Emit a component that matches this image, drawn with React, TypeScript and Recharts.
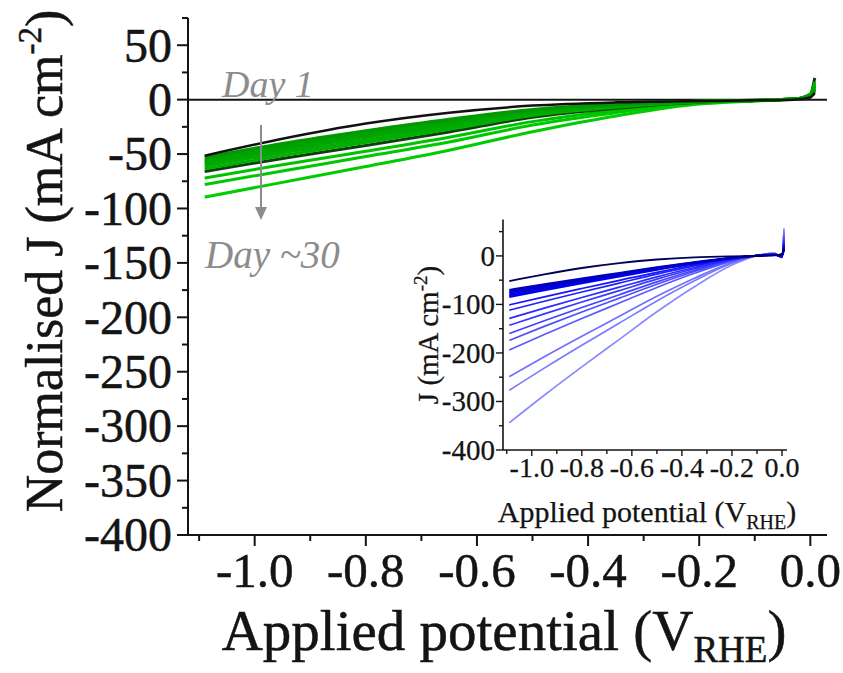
import { LineChart, Line, XAxis, YAxis, ReferenceLine } from 'recharts'

const FONT = "'Liberation Serif', 'Times New Roman', serif"
const INK = '#141414'

// applied potential (V vs RHE) at which every sweep is sampled
const potentials = [-1.09, -0.95, -0.8, -0.65, -0.5, -0.35, -0.2, -0.1, -0.03, 0, 0.008]

// normalised current density, main panel (mA cm-2)
const mainDay1 = [-51.5, -36, -22, -12, -5.5, -2.5, -1.2, -0.6, 0, 2, 6]
const mainDay2 = [-66, -54, -42.2, -29.7, -16.2, -7.9, -2.3, -0.8, 0.5, 5, 20]
const mainDay3 = [-53, -40.3, -28.6, -18, -9, -4, -1.4, -0.6, 0.5, 3, 8]
const mainDay4 = [-55, -42.4, -30.5, -19.3, -9.9, -4.4, -1.5, -0.6, 0.5, 3, 9]
const mainDay5 = [-57, -44.5, -32.5, -21.1, -10.8, -4.8, -1.6, -0.6, 0.5, 4, 10]
const mainDay6 = [-59, -46.6, -34.8, -23, -11.8, -5.3, -1.8, -0.7, 0.5, 4, 12]
const mainDay7 = [-61, -48.8, -37.2, -25, -13.1, -6.1, -1.8, -0.7, 0.5, 5, 14]
const mainDay8 = [-63.5, -51.4, -39.4, -27.3, -14.6, -7, -2.1, -0.8, 0.5, 5, 16]
const mainDay9 = [-72, -59.8, -47.5, -34.6, -20.2, -10, -2.9, -0.9, 0.5, 4, 14]
const mainDay10 = [-78, -65.5, -52.3, -39, -23.4, -12, -3.1, -1, 0.5, 4, 12]
const mainDay11 = [-89.5, -76, -61.5, -46.5, -29.5, -15, -4, -1.2, 0.5, 4, 12]

// raw current density, inset (mA cm-2)
const insetDay1 = [-52, -38, -25, -15, -7.5, -3, -1, -0.3, 1, 4, 15]
const insetDay2 = [-70, -58.5, -46.5, -35, -23.5, -13, -3.9, 0.5, 2, 1, 12]
const insetDay3 = [-73, -61, -48.5, -36.5, -24.5, -13.5, -4, 0.5, 2, 1, 14]
const insetDay4 = [-76, -63.5, -50.5, -38, -25.5, -14.1, -4.2, 0.5, 2, 0, 16]
const insetDay5 = [-79, -66, -52.5, -39.5, -26.5, -14.6, -4.3, 0.5, 2, 0, 18]
const insetDay6 = [-82, -68.5, -54.5, -41, -27.5, -15.2, -4.5, 0.5, 2, -1, 20]
const insetDay7 = [-85, -71, -56.5, -42.5, -28.5, -15.7, -4.7, 0.5, 2, -1, 22]
const insetDay8 = [-101, -84.3, -67.2, -50.5, -33.8, -18.7, -5.6, 0.5, 3, -1, 25]
const insetDay9 = [-112, -93.5, -74.5, -56, -37.5, -20.7, -6.2, 0.5, 3, -2, 28]
const insetDay10 = [-129, -107.7, -85.8, -64.5, -43.2, -23.9, -7.1, 0.5, 3, -2, 30]
const insetDay11 = [-143, -119.4, -95.1, -71.5, -47.9, -26.5, -7.9, 0.5, 3, -2, 33]
const insetDay12 = [-160, -133.6, -106.4, -80, -53.6, -29.6, -8.8, 0.5, 4, -2, 36]
const insetDay13 = [-174, -145.3, -115.7, -87, -58.3, -32.2, -9.6, 0.5, 4, -3, 40]
const insetDay14 = [-194, -162, -129, -97, -65, -35.9, -10.7, 0.5, 4, -3, 44]
const insetDay15 = [-249, -207.9, -165.6, -124.5, -83.4, -46.1, -13.7, 0.5, 5, -3, 48]
const insetDay16 = [-277, -231.3, -184.2, -138.5, -92.8, -51.2, -15.2, 0.5, 5, -3, 52]
const insetDay17 = [-344, -287.2, -228.8, -172, -115.2, -63.6, -18.9, 0.5, 5, -3, 57]

const potentialTicks = [-1.1, -1.0, -0.9, -0.8, -0.7, -0.6, -0.5, -0.4, -0.3, -0.2, -0.1, 0.0]
const mainJTicks = [
  -400, -375, -350, -325, -300, -275, -250, -225, -200, -175, -150, -125, -100, -75, -50, -25,
  0, 25, 50, 75,
]
const insetJTicks = [-400, -350, -300, -250, -200, -150, -100, -50, 0, 50]

type Series = { key: string; values: number[]; color: string; width: number }

// drawn bottom-up: later entries sit on top
const mainSeries: Series[] = [
  { key: 'd11', values: mainDay11, color: '#00cc00', width: 3 },
  { key: 'd10', values: mainDay10, color: '#00c800', width: 3 },
  { key: 'd9', values: mainDay9, color: '#00c200', width: 3 },
  { key: 'd2', values: mainDay2, color: '#0b420b', width: 3 },
  { key: 'd8', values: mainDay8, color: '#00b000', width: 3 },
  { key: 'd7', values: mainDay7, color: '#00ac00', width: 3 },
  { key: 'd6', values: mainDay6, color: '#00a800', width: 3 },
  { key: 'd5', values: mainDay5, color: '#00a400', width: 3 },
  { key: 'd4', values: mainDay4, color: '#00a000', width: 3 },
  { key: 'd3', values: mainDay3, color: '#009a00', width: 3 },
  { key: 'd1', values: mainDay1, color: '#111111', width: 2.5 },
]

const insetSeries: Series[] = [
  { key: 'd17', values: insetDay17, color: '#8a8aff', width: 1.7 },
  { key: 'd16', values: insetDay16, color: '#7a7aff', width: 1.7 },
  { key: 'd15', values: insetDay15, color: '#7070ff', width: 1.7 },
  { key: 'd14', values: insetDay14, color: '#5a5aff', width: 1.7 },
  { key: 'd13', values: insetDay13, color: '#5050ff', width: 1.7 },
  { key: 'd12', values: insetDay12, color: '#4444ff', width: 1.7 },
  { key: 'd11', values: insetDay11, color: '#3838ff', width: 1.7 },
  { key: 'd10', values: insetDay10, color: '#2c2cff', width: 1.7 },
  { key: 'd9', values: insetDay9, color: '#2020ff', width: 1.7 },
  { key: 'd8', values: insetDay8, color: '#1414ff', width: 1.7 },
  { key: 'd7', values: insetDay7, color: '#0000f0', width: 1.9 },
  { key: 'd6', values: insetDay6, color: '#0000e6', width: 1.9 },
  { key: 'd5', values: insetDay5, color: '#0000dc', width: 1.9 },
  { key: 'd4', values: insetDay4, color: '#0000d2', width: 1.9 },
  { key: 'd3', values: insetDay3, color: '#0000c8', width: 1.9 },
  { key: 'd2', values: insetDay2, color: '#0000be', width: 1.9 },
  { key: 'd1', values: insetDay1, color: '#00005a', width: 1.9 },
]

const toRows = (series: Series[]) =>
  potentials.map((v, i) => {
    const row: Record<string, number> = { v }
    series.forEach((s) => {
      row[s.key] = s.values[i]
    })
    return row
  })

const mainRows = toRows(mainSeries)
const insetRows = toRows(insetSeries)

type TickOpts = {
  side: 'left' | 'right' | 'top' | 'bottom'
  major: number
  minor: number
  isMajor: (v: number) => boolean
  label?: (v: number) => string
  fontSize?: number
  gap?: number
  stroke: number
}

// one axis renders its own tick marks (long/short) plus the label text
function makeTick(o: TickOpts) {
  return (props: any) => {
    const { x, y, payload } = props
    const v = payload.value as number
    const big = o.isMajor(v)
    const len = big ? o.major : o.minor
    const fs = o.fontSize ?? 0
    const gap = o.gap ?? 0
    let x1 = x, y1 = y, x2 = x, y2 = y
    if (o.side === 'left' || o.side === 'right') x1 = x - len
    else y2 = y + len
    const textProps = {
      fontSize: fs,
      fontFamily: FONT,
      fill: INK,
      stroke: INK,
      strokeWidth: fs > 35 ? 0.5 : 0.25,
    }
    return (
      <g>
        <line x1={x1} y1={y1} x2={x2} y2={y2} stroke={INK} strokeWidth={o.stroke} />
        {big && o.label && o.side === 'left' && (
          <text x={x - o.major - gap} y={y + fs * 0.34} textAnchor="end" {...textProps}>
            {o.label(v)}
          </text>
        )}
        {big && o.label && o.side === 'bottom' && (
          <text x={x} y={y + o.major + gap + fs * 0.66} textAnchor="middle" {...textProps}>
            {o.label(v)}
          </text>
        )}
      </g>
    )
  }
}

const potMajor = (v: number) => Math.abs(Math.round(v * 10)) % 2 === 0
const fmtPot = (v: number) => v.toFixed(1)

function MainChart() {
  const xDomain: [number, number] = [-1.12, 0.03]
  const yDomain: [number, number] = [-400, 75]
  const jMajor = (v: number) => v % 50 === 0
  return (
    <LineChart width={843} height={673} data={mainRows} margin={{ top: 18, right: 16, bottom: 78, left: 88 }}>
      <XAxis
        xAxisId="b"
        dataKey="v"
        type="number"
        domain={xDomain}
        allowDataOverflow
        ticks={potentialTicks}
        interval={0}
        height={60}
        tickSize={0}
        tickMargin={0}
        tickLine={false}
        axisLine={{ stroke: INK, strokeWidth: 2 }}
        tick={makeTick({ side: 'bottom', major: 11, minor: 6, isMajor: potMajor, label: fmtPot, fontSize: 49, gap: 9, stroke: 2 })}
      />
      <XAxis
        xAxisId="t"
        dataKey="v"
        type="number"
        orientation="top"
        domain={xDomain}
        allowDataOverflow
        ticks={potentialTicks}
        interval={0}
        height={0}
        tickSize={0}
        tickMargin={0}
        tickLine={false}
        axisLine={{ stroke: INK, strokeWidth: 2 }}
        tick={makeTick({ side: 'top', major: 10, minor: 6, isMajor: potMajor, stroke: 2 })}
      />
      <YAxis
        yAxisId="l"
        type="number"
        domain={yDomain}
        allowDataOverflow
        ticks={mainJTicks}
        interval={0}
        width={100}
        tickSize={0}
        tickMargin={0}
        tickLine={false}
        axisLine={{ stroke: INK, strokeWidth: 2 }}
        tick={makeTick({ side: 'left', major: 11, minor: 6, isMajor: jMajor, label: (v) => String(v), fontSize: 48, gap: 5, stroke: 2 })}
      />
      <YAxis
        yAxisId="r"
        type="number"
        orientation="right"
        domain={yDomain}
        allowDataOverflow
        ticks={mainJTicks}
        interval={0}
        width={0}
        tickSize={0}
        tickMargin={0}
        tickLine={false}
        axisLine={{ stroke: INK, strokeWidth: 2 }}
        tick={makeTick({ side: 'right', major: 10, minor: 6, isMajor: jMajor, stroke: 2 })}
      />
      <ReferenceLine xAxisId="b" yAxisId="l" y={0} stroke={INK} strokeWidth={2} />
      {mainSeries.map((s) => (
        <Line
          key={s.key}
          xAxisId="b"
          yAxisId="l"
          type="monotone"
          dataKey={s.key}
          stroke={s.color}
          strokeWidth={s.width}
          dot={false}
          isAnimationActive={false}
        />
      ))}
    </LineChart>
  )
}

function InsetChart() {
  const xDomain: [number, number] = [-1.115, 0.02]
  const yDomain: [number, number] = [-400, 75]
  const jMajor = (v: number) => v % 100 === 0
  return (
    <LineChart width={400} height={330} data={insetRows} margin={{ top: 19.5, right: 13, bottom: 40, left: 13 }}>
      <XAxis
        xAxisId="b"
        dataKey="v"
        type="number"
        domain={xDomain}
        allowDataOverflow
        ticks={potentialTicks}
        interval={0}
        height={40}
        tickSize={0}
        tickMargin={0}
        tickLine={false}
        axisLine={{ stroke: INK, strokeWidth: 1.6 }}
        tick={makeTick({ side: 'bottom', major: 6, minor: 4, isMajor: potMajor, label: fmtPot, fontSize: 28, gap: 3, stroke: 1.4 })}
      />
      <XAxis
        xAxisId="t"
        dataKey="v"
        type="number"
        orientation="top"
        domain={xDomain}
        allowDataOverflow
        ticks={potentialTicks}
        interval={0}
        height={0}
        tickSize={0}
        tickMargin={0}
        tickLine={false}
        axisLine={{ stroke: INK, strokeWidth: 1.6 }}
        tick={makeTick({ side: 'top', major: 5, minor: 4, isMajor: potMajor, stroke: 1.4 })}
      />
      <YAxis
        yAxisId="l"
        type="number"
        domain={yDomain}
        allowDataOverflow
        ticks={insetJTicks}
        interval={0}
        width={90}
        tickSize={0}
        tickMargin={0}
        tickLine={false}
        axisLine={{ stroke: INK, strokeWidth: 1.6 }}
        tick={makeTick({ side: 'left', major: 7, minor: 4, isMajor: jMajor, label: (v) => String(v), fontSize: 29, gap: 1, stroke: 1.4 })}
      />
      <YAxis
        yAxisId="r"
        type="number"
        orientation="right"
        domain={yDomain}
        allowDataOverflow
        ticks={insetJTicks}
        interval={0}
        width={0}
        tickSize={0}
        tickMargin={0}
        tickLine={false}
        axisLine={{ stroke: INK, strokeWidth: 1.6 }}
        tick={makeTick({ side: 'right', major: 6, minor: 4, isMajor: jMajor, stroke: 1.4 })}
      />
      {insetSeries.map((s) => (
        <Line
          key={s.key}
          xAxisId="b"
          yAxisId="l"
          type="monotone"
          dataKey={s.key}
          stroke={s.color}
          strokeWidth={s.width}
          dot={false}
          isAnimationActive={false}
        />
      ))}
    </LineChart>
  )
}

export default function App() {
  return (
    <div style={{ position: 'absolute', left: 0, top: 0, width: 843, height: 673, background: '#fff' }}>
      <MainChart />
      <div style={{ position: 'absolute', left: 400, top: 200 }}>
        <InsetChart />
      </div>
      <svg width={843} height={673} style={{ position: 'absolute', left: 0, top: 0, pointerEvents: 'none' }} fontFamily={FONT}>
        {/* main axis titles */}
        <text transform="translate(62 261) rotate(-90)" textAnchor="middle" fontSize={52} fill={INK} stroke={INK} strokeWidth={0.5}>
          Normalised J (mA cm
          <tspan dy={-21} fontSize={33}>-2</tspan>
          <tspan dy={21}>)</tspan>
        </text>
        <text x={504} y={650} textAnchor="middle" fontSize={57} fill={INK} stroke={INK} strokeWidth={0.5}>
          Applied potential (V
          <tspan dy={12} fontSize={37}>RHE</tspan>
          <tspan dy={-12}>)</tspan>
        </text>

        {/* inset axis titles */}
        <text transform="translate(438 335) rotate(-90)" textAnchor="middle" fontSize={29} fill={INK} stroke={INK} strokeWidth={0.25}>
          J (mA cm
          <tspan dy={-11} fontSize={19}>-2</tspan>
          <tspan dy={11}>)</tspan>
        </text>
        <text x={647} y={522} textAnchor="middle" fontSize={30} fill={INK} stroke={INK} strokeWidth={0.25}>
          Applied potential (V
          <tspan dy={7} fontSize={20}>RHE</tspan>
          <tspan dy={-7}>)</tspan>
        </text>

        {/* ageing annotation */}
        <text x={222} y={97} fontSize={38} fontStyle="italic" fill="#8c8c8c">
          Day 1
        </text>
        <line x1={261} y1={125} x2={261} y2={210} stroke="#8c8c8c" strokeWidth={2} />
        <polygon points="255,207 267,207 261,220" fill="#8c8c8c" />
        <text x={205} y={268} fontSize={39} fontStyle="italic" fill="#8c8c8c">
          Day ~30
        </text>
      </svg>
    </div>
  )
}
